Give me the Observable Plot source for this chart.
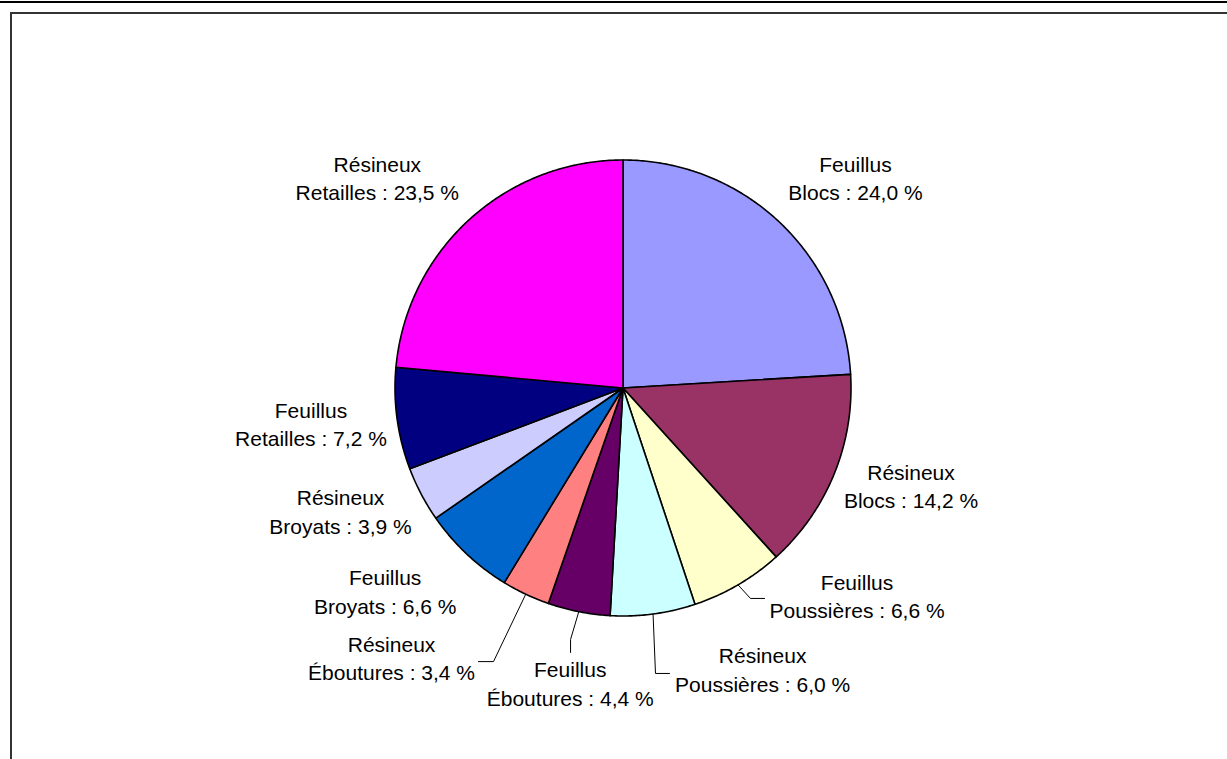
<!DOCTYPE html>
<html>
<head>
<meta charset="utf-8">
<script src="https://cdn.jsdelivr.net/npm/d3@7"></script>
<script src="https://cdn.jsdelivr.net/npm/@observablehq/plot@0.6"></script>
<style>
  html, body { margin: 0; padding: 0; background: #fff; overflow: hidden; }
  #wrap { position: relative; width: 1227px; height: 759px; overflow: hidden; }
  #chart svg { display: block; }
  .rule-top { position: absolute; left: 0; top: 1px; width: 1227px; height: 2px; background: #000; }
  .inner-frame { position: absolute; left: 10px; top: 12px; width: 1400px; height: 900px;
                 border-top: 2px solid #333; border-left: 2px solid #333; pointer-events: none; }
</style>
</head>
<body>
<div id="wrap">
  <div id="chart"></div>
  <div class="rule-top"></div>
  <div class="inner-frame"></div>
</div>
<script>
// ---- data (clockwise from 12 o'clock) ----
const groups = ["Feuillus", "Résineux", "Feuillus", "Résineux", "Feuillus", "Résineux", "Feuillus", "Résineux", "Feuillus", "Résineux"];
const types = ["Blocs", "Blocs", "Poussières", "Poussières", "Éboutures", "Éboutures", "Broyats", "Broyats", "Retailles", "Retailles"];
const values = [24.0, 14.2, 6.6, 6.0, 4.4, 3.4, 6.6, 3.9, 7.2, 23.5];
const colors = ["#9999FF", "#993366", "#FFFFCC", "#CCFFFF", "#660066", "#FF8080", "#0066CC", "#CCCCFF", "#000080", "#FF00FF"];

// ---- layout (label placement in pie-radius units) ----
const labelAngle = [48.0, 109.0, 131.8, 153.7, 190.1, 220.5, 229.3, 246.2, 263.3, 310.4];
const labelDist = [1.372, 1.336, 1.377, 1.382, 1.320, 1.563, 1.376, 1.354, 1.378, 1.415];
const leaderSlices = [2, 3, 4, 5];
const leaderBends = [[[0.559, 0.923], [0.621, 0.923]],
                     [[0.1425, 1.252], [0.204, 1.252]],
                     [[-0.230, 1.103], [-0.230, 1.160]],
                     [[-0.568, 1.200], [-0.634, 1.200]]];

const W = 1227, H = 759, CX = 622.5, CY = 387.5, R = 228;

const names = groups.map((g, i) => `${g} ${types[i]}`);
const arcs = d3.pie().sort(null).startAngle(0).endAngle(2 * Math.PI)(values);
const pt = (a, r) => [r * Math.sin(a), -r * Math.cos(a)];

// slice polygons
const slicePts = [];
arcs.forEach((a, i) => {
  const name = names[i];
  slicePts.push({name, x: 0, y: 0});
  const n = Math.max(2, Math.ceil((a.endAngle - a.startAngle) / (Math.PI / 360)));
  for (let k = 0; k <= n; k++) {
    const t = a.startAngle + (a.endAngle - a.startAngle) * k / n;
    const [x, y] = pt(t, 1);
    slicePts.push({name, x, y});
  }
  slicePts.push({name, x: 0, y: 0});
});

// labels
const labels = arcs.map((a, i) => {
  const ang = labelAngle[i] * Math.PI / 180;
  const [x, y] = pt(ang, labelDist[i]);
  return {x, y, text: `${groups[i]}\n${types[i]} : ${values[i].toFixed(1).replace(".", ",")} %`};
});

// leader lines
const leaderPts = [];
leaderSlices.forEach((si, j) => {
  const a = arcs[si];
  const mid = (a.startAngle + a.endAngle) / 2;
  const [x0, y0] = pt(mid, 1);
  leaderPts.push({id: j, x: x0, y: y0});
  leaderBends[j].forEach(([x, y]) => leaderPts.push({id: j, x, y}));
});

const chart = Plot.plot({
  width: W,
  height: H,
  margin: 0,
  x: {domain: [-CX / R, (W - CX) / R], range: [0, W], axis: null},
  y: {domain: [-CY / R, (H - CY) / R], range: [0, H], axis: null},
  color: {domain: names, range: colors},
  style: {background: "#fff"},
  marks: [
    Plot.line(slicePts, {x: "x", y: "y", z: "name", fill: "name", stroke: "#000", strokeWidth: 1.6, strokeLinejoin: "round", curve: "linear"}),
    Plot.line(leaderPts, {x: "x", y: "y", z: "id", stroke: "#000", strokeWidth: 1, curve: "linear"}),
    Plot.text(labels, {x: "x", y: "y", text: "text", fontSize: 21, lineHeight: 1.35, textAnchor: "middle", dy: -2,
      fontFamily: "'Liberation Sans', Arial, sans-serif", fill: "#000"})
  ]
});
document.getElementById("chart").appendChild(chart);
</script>
</body>
</html>
